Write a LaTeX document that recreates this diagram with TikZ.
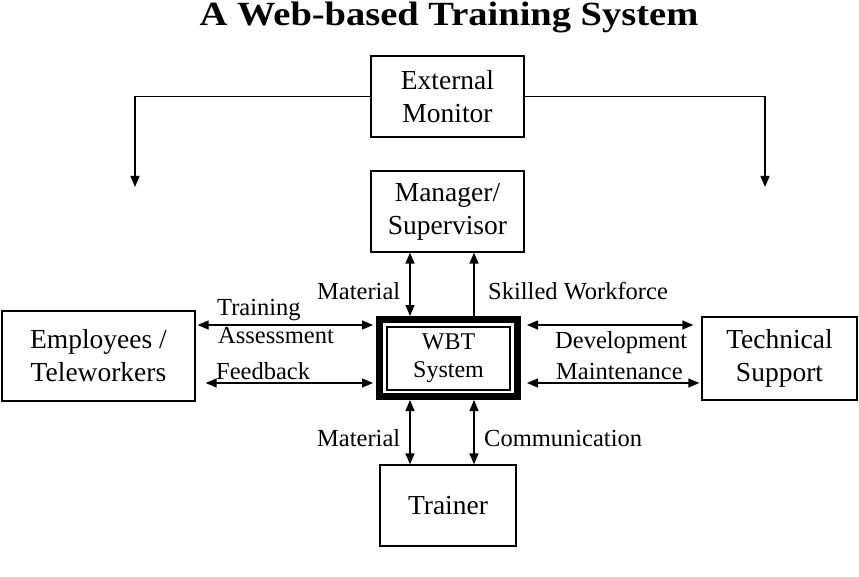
\documentclass[tikz,border=0pt]{standalone}
\usepackage{fontspec}
\setmainfont{Liberation Serif}
\usetikzlibrary{arrows.meta,calc}
\begin{document}
\begin{tikzpicture}[x=1pt,y=-1pt,
  box/.style={draw,line width=1.3pt,align=center,inner sep=0pt,font=\fontsize{27.5}{33}\selectfont},
  lbl/.style={anchor=base west,inner sep=0pt,font=\fontsize{24.5}{28}\selectfont},
  conn/.style={line width=1.3pt},
  tip/.style={-{Triangle[length=11pt,width=9pt]}},
  dtip/.style={{Triangle[length=11pt,width=9pt]}-{Triangle[length=11pt,width=9pt]}}]
\useasboundingbox (0,0) rectangle (859,577);
\node[anchor=base,inner sep=0pt,font=\fontsize{38.5}{40}\selectfont\bfseries] (title) at (449,26) {\scalebox{1}[0.88]{A Web-based Training System}};
\node[box,minimum width=153pt,minimum height=81pt] (ext) at (447.5,96.5) {External\\Monitor};
\node[box,minimum width=153pt,minimum height=81pt] (mgr) at (447.5,211.5) {Manager/\\Supervisor};
\node[draw,line width=7pt,minimum width=138pt,minimum height=77pt,inner sep=0pt] (wbt) at (448.5,358) {};
\node[draw,line width=1.2pt,minimum width=123pt,minimum height=63pt,inner sep=0pt,align=center,font=\fontsize{24}{28}\selectfont] (wbtin) at (448.5,358.5) {WBT\\System};
\node[box,minimum width=193pt,minimum height=90pt] (emp) at (98.5,356) {Employees /\\Teleworkers};
\node[box,minimum width=155pt,minimum height=83pt] (tech) at (779.5,358.5) {Technical\\Support};
\node[box,minimum width=136pt,minimum height=81pt] (trainer) at (448,505.5) {Trainer};
% labels
\node[lbl] (l1) at (317,299) {Material};
\node[lbl] (l2) at (488,299) {Skilled Workforce};
\node[lbl] (l3) at (217,315) {Training};
\node[lbl] (l4) at (218,343) {Assessment};
\node[lbl] (l5) at (216,379) {Feedback};
\node[lbl] (l6) at (555,348) {Development};
\node[lbl] (l7) at (556,379) {Maintenance};
\node[lbl] (l8) at (317,446) {Material};
\node[lbl] (l9) at (484,446) {Communication};
% connectors
\coordinate (xa) at (410,0);
\coordinate (xb) at (474,0);
\coordinate (ya) at (0,325);
\coordinate (yb) at (0,383);
\coordinate (el) at (135,187);
\coordinate (er) at (765,187);
\draw[conn,dtip] (mgr.south -| xa) -- (wbt.north -| xa);
\draw[conn,tip] (wbt.north -| xb) -- (mgr.south -| xb);
\draw[conn,dtip] (wbt.south -| xa) -- (trainer.north -| xa);
\draw[conn,dtip] (wbt.south -| xb) -- (trainer.north -| xb);
\draw[conn,dtip,shorten <=2pt,shorten >=3pt] (emp.east |- ya) -- (wbt.west |- ya);
\draw[conn,dtip,shorten <=10pt,shorten >=3pt] (emp.east |- yb) -- (wbt.west |- yb);
\draw[conn,dtip,shorten <=6pt,shorten >=8pt] (wbt.east |- ya) -- (tech.west |- ya);
\draw[conn,dtip,shorten <=6pt,shorten >=2pt] (wbt.east |- yb) -- (tech.west |- yb);
\draw[conn,tip] (ext.west) -| (el);
\draw[conn,tip] (ext.east) -| (er);
\end{tikzpicture}
\end{document}
